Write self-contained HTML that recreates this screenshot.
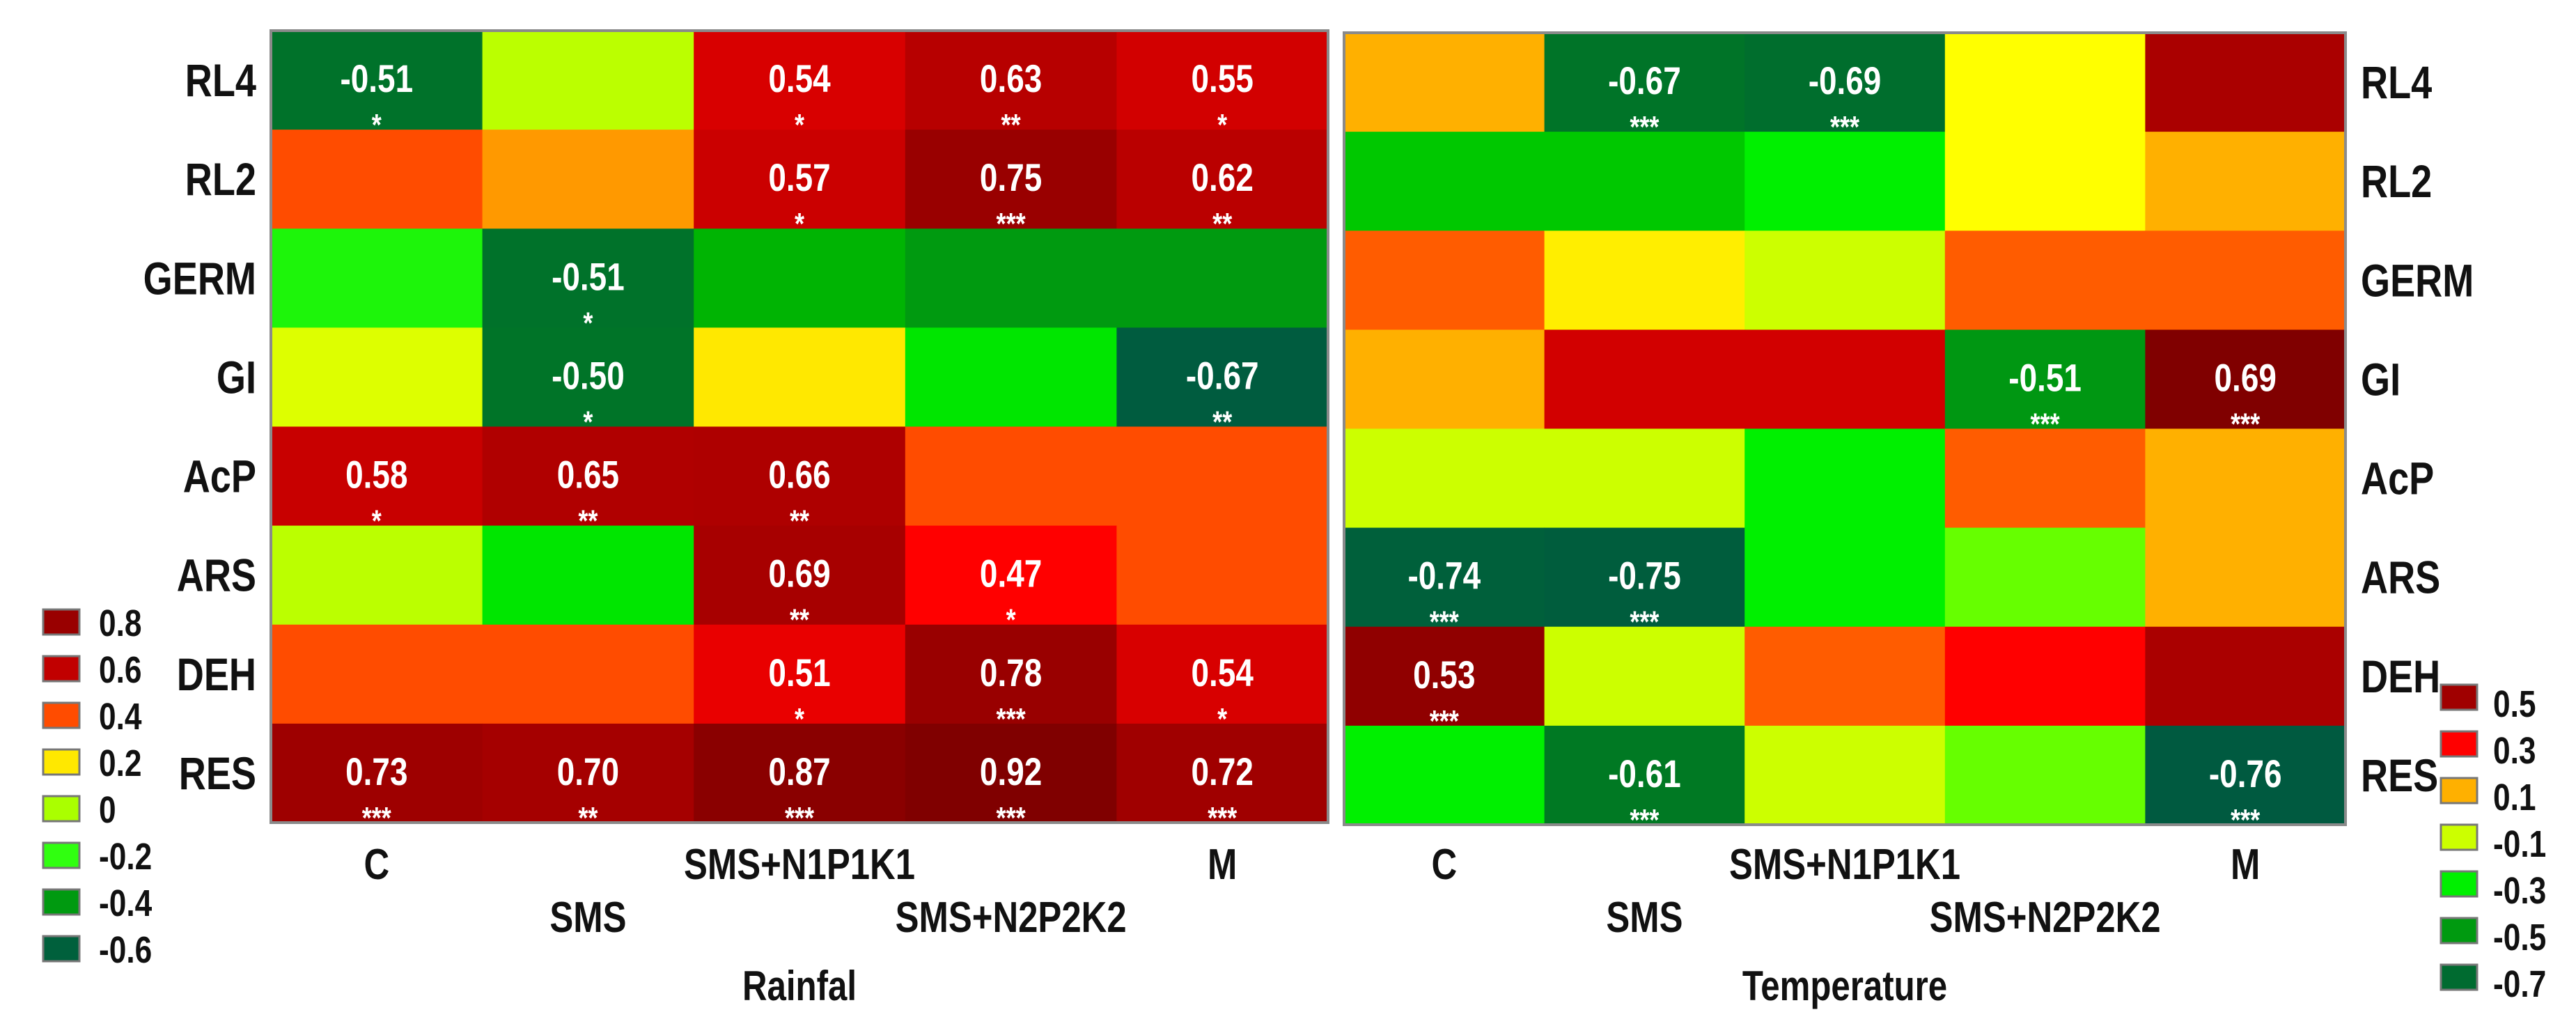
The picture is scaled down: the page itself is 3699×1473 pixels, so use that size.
<!DOCTYPE html>
<html><head><meta charset="utf-8"><style>
html,body{margin:0;padding:0;background:#fff;}
svg text{font-family:"Liberation Sans",sans-serif;font-weight:bold;}
</style></head><body>
<svg id="chart" xmlns="http://www.w3.org/2000/svg" width="3699" height="1468" viewBox="0 0 3699 1468">
<rect x="0" y="0" width="3699" height="1468" fill="#fff"/>
</svg>
<script>
const rowsVars = ["RL4","RL2","GERM","GI","AcP","ARS","DEH","RES"];
const treatments = ["C","SMS","SMS+N1P1K1","SMS+N2P2K2","M"];
const rainValues = [
 [-0.51,0.05,0.54,0.63,0.55],
 [0.40,0.30,0.57,0.75,0.62],
 [-0.22,-0.51,-0.36,-0.40,-0.40],
 [0.15,-0.50,0.20,-0.25,-0.67],
 [0.58,0.65,0.66,0.40,0.40],
 [0.05,-0.25,0.69,0.47,0.40],
 [0.40,0.40,0.51,0.78,0.54],
 [0.73,0.70,0.87,0.92,0.72]];
const rainStars = [
 ["*","","*","**","*"],["","","*","***","**"],["","*","","",""],["","*","","","**"],
 ["*","**","**","",""],["","","**","*",""],["","","*","***","*"],["***","**","***","***","***"]];
const tempValues = [
 [0.10,-0.67,-0.69,0.00,0.48],
 [-0.42,-0.42,-0.30,0.00,0.10],
 [0.20,0.02,-0.10,0.20,0.20],
 [0.10,0.40,0.40,-0.51,0.69],
 [-0.10,-0.10,-0.30,0.20,0.10],
 [-0.74,-0.75,-0.30,-0.20,0.10],
 [0.53,-0.10,0.20,0.30,0.48],
 [-0.30,-0.61,-0.10,-0.20,-0.76]];
const tempStars = [
 ["","***","***","",""],["","","","",""],["","","","",""],["","","","***","***"],
 ["","","","",""],["***","***","","",""],["***","","","",""],["","***","","","***"]];
const rainLegend = ["0.8","0.6","0.4","0.2","0","-0.2","-0.4","-0.6"];
const rainLegendVals = [0.8,0.6,0.4,0.2,0,-0.2,-0.4,-0.6];
const tempLegend = ["0.5","0.3","0.1","-0.1","-0.3","-0.5","-0.7"];
const tempLegendVals = [0.5,0.3,0.1,-0.1,-0.3,-0.5,-0.7];

const rainStops=[[-0.7,"#005a40"],[-0.6,"#00603c"],[-0.5,"#007428"],[-0.4,"#009a10"],[-0.35,"#00bb00"],[-0.25,"#00e600"],[-0.2,"#30ff10"],[0,"#aaff00"],[0.15,"#ddff00"],[0.2,"#ffe800"],[0.3,"#ff9900"],[0.4,"#ff4c00"],[0.47,"#ff0000"],[0.55,"#d20000"],[0.65,"#b00000"],[0.75,"#990000"],[0.8,"#990000"],[0.92,"#800000"]];
const tempStops=[[-0.76,"#005a40"],[-0.67,"#007428"],[-0.6,"#007a22"],[-0.5,"#009a10"],[-0.42,"#00c800"],[-0.3,"#00f000"],[-0.2,"#66ff00"],[-0.1,"#ccff00"],[0,"#ffff00"],[0.02,"#ffee00"],[0.1,"#ffb000"],[0.2,"#ff5c00"],[0.3,"#ff0000"],[0.4,"#d20000"],[0.48,"#aa0000"],[0.53,"#900000"],[0.69,"#800000"]];

function hex(c){return [parseInt(c.substr(1,2),16),parseInt(c.substr(3,2),16),parseInt(c.substr(5,2),16)];}
function colorFor(v,stops){
 if(v<=stops[0][0])return stops[0][1];
 for(let i=1;i<stops.length;i++){if(v<=stops[i][0]){const a=stops[i-1],b=stops[i];const t=(v-a[0])/(b[0]-a[0]);const ca=hex(a[1]),cb=hex(b[1]);
  return "rgb("+ca.map((x,k)=>Math.round(x+(cb[k]-x)*t)).join(",")+")";}}
 return stops[stops.length-1][1];
}
const NS="http://www.w3.org/2000/svg";
const svg=document.getElementById("chart");
function mk(tag,attrs,parent){const e=document.createElementNS(NS,tag);for(const k in attrs)e.setAttribute(k,attrs[k]);(parent||svg).appendChild(e);return e;}
function txt(x,y,s,size,anchor,fill,parent){const t=mk("text",{x:0,y:0,transform:"translate("+x+","+y+") scale(0.82,1)","font-size":size,"text-anchor":anchor,fill:fill},parent);t.textContent=s;return t;}

function panel(cfg){
 const g=mk("g",{});
 
 
 const cw=(cfg.x1-cfg.x0)/treatments.length, rh=(cfg.y1-cfg.y0)/rowsVars.length;
 const xs=i=>cfg.x0+i*cw, ys=j=>cfg.y0+j*rh;
 for(let r=0;r<rowsVars.length;r++){for(let c=0;c<treatments.length;c++){
  const v=cfg.values[r][c];
  const cell=mk("rect",{x:xs(c),y:ys(r),width:cw+0.5,height:rh+0.5,fill:colorFor(v,cfg.stops)},g);
  
  
  const st=cfg.stars[r][c];
  if(st){
   const t=txt(xs(c)+cw/2,ys(r)+88,v.toFixed(2),56,"middle","#fff",g);
   
   
   const s=txt(xs(c)+cw/2,ys(r)+150,st,44,"middle","#fff",g);
   
   
  }
 }}
 const fr=mk("rect",{x:cfg.x0,y:cfg.y0,width:cfg.x1-cfg.x0,height:cfg.y1-cfg.y0,fill:"none",stroke:"#8a8a8a","stroke-width":4},g);
 
 
 for(let r=0;r<rowsVars.length;r++){
  const l=txt(cfg.labelX,ys(r)+rh/2+23,rowsVars[r],66,cfg.labelAnchor,"#111",g);
  
  
 }
 for(let c=0;c<treatments.length;c++){
  const l=txt(xs(c)+cw/2,c%2===0?1262:1338,treatments[c],62,"middle","#111",g);
  
  
 }
 const ttl=txt((cfg.x0+cfg.x1)/2,1436,cfg.title,60,"middle","#111",g);
 
 
 const lg=mk("g",{},g);
 
 
 for(let i=0;i<cfg.legend.length;i++){
  const y=cfg.legY+i*cfg.legStep;
  const sw=mk("rect",{x:cfg.legX,y:y,width:52,height:36,fill:colorFor(cfg.legendVals[i],cfg.stops),stroke:"#777","stroke-width":3},lg);
  
  
  const lt=txt(cfg.legX+cfg.legTextDx,y+36+cfg.legTextDy,cfg.legend[i],54,"start","#111",lg);
  
  
 }
}
panel({name:"rainfall-heatmap",x0:389,x1:1907,y0:44,y1:1181,values:rainValues,stars:rainStars,stops:rainStops,
 labelX:368,labelAnchor:"end",title:"Rainfal",legend:rainLegend,legendVals:rainLegendVals,legX:62,legY:875,legStep:67,legTextDx:80,legTextDy:2});
panel({name:"temperature-heatmap",x0:1930,x1:3368,y0:47,y1:1184,values:tempValues,stars:tempStars,stops:tempStops,
 labelX:3390,labelAnchor:"start",title:"Temperature",legend:tempLegend,legendVals:tempLegendVals,legX:3505,legY:983,legStep:67,legTextDx:75,legTextDy:10});
</script>
</body></html>
